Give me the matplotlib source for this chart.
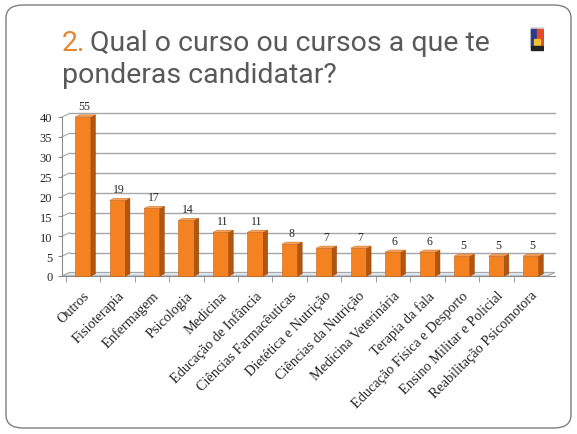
import matplotlib
matplotlib.use("Agg")
import matplotlib.pyplot as plt
from matplotlib.patches import Polygon, FancyBboxPatch, Rectangle

categories = ["Outros", "Fisioterapia", "Enfermagem", "Psicologia", "Medicina",
              "Educação de Infância", "Ciências Farmacêuticas", "Dietética e Nutrição",
              "Ciências da Nutrição", "Medicina Veterinária", "Terapia da fala",
              "Educação Física e Desporto", "Ensino Militar e Policial",
              "Reabilitação Psicomotora"]
values = [55, 19, 17, 14, 11, 11, 8, 7, 7, 6, 6, 5, 5, 5]
yticks = [0, 5, 10, 15, 20, 25, 30, 35, 40]

W, H = 577, 435
fig = plt.figure(figsize=(W / 100, H / 100), dpi=100)
fig.patch.set_facecolor("white")

# slide border
fig.patches.append(FancyBboxPatch((6 / W, 6 / H), (W - 12) / W, (H - 12) / H,
                                  boxstyle="round,pad=0,rounding_size=0.03",
                                  transform=fig.transFigure, fill=False,
                                  edgecolor="#7f7f7f", linewidth=1.0))

# title
tfont = dict(family=["Roboto", "DejaVu Sans"], fontsize=20.5)
t1 = fig.text(62 / W, 1 - 51 / H, "2.", color="#E8862E", **tfont)
fig.canvas.draw()
bb = t1.get_window_extent()
fig.text(bb.x1 / W + 0.008, 1 - 51 / H, "Qual o curso ou cursos a que te",
         color="#595959", **tfont)
fig.text(62 / W, 1 - 83 / H, "ponderas candidatar?", color="#595959", **tfont)

# small logo
lax = fig.add_axes([530 / W, 1 - 58 / H, 14 / W, 30 / H])
lax.set_xlim(0, 1); lax.set_ylim(0, 1); lax.axis("off")
lax.add_patch(Rectangle((0, 0.35), 1, 0.65, color="#d9d9d9"))
lax.add_patch(Rectangle((0.05, 0.4), 0.45, 0.55, color="#2b3a8c"))
lax.add_patch(Rectangle((0.5, 0.4), 0.45, 0.55, color="#e24a2b"))
lax.add_patch(Rectangle((0.3, 0.4), 0.4, 0.2, color="#f2c12e"))
lax.add_patch(Rectangle((0.05, 0.25), 0.9, 0.12, color="#222222"))

# chart axes
ymax = 40
x0px, x1px = 62, 555
y0px, y1px = 277, 118
ax = fig.add_axes([x0px / W, 1 - y0px / H, (x1px - x0px) / W, (y0px - y1px) / H])
n = len(values)
ax.set_xlim(-0.61, n - 1 + 0.7)
ax.set_ylim(0, ymax)
for s in ["top", "right"]:
    ax.spines[s].set_visible(False)
ax.spines["left"].set_color("#8c8c8c")
ax.spines["bottom"].set_color("#8c8c8c")
ax.set_facecolor("none")

# perspective offsets (data units)
dx, dy = 0.22, 0.9
for yv in yticks[1:]:
    ax.plot([-0.61 + dx, n - 1 + 0.7], [yv + dy, yv + dy], color="#a6a6a6",
            lw=1.0, zorder=1, clip_on=False)
    ax.plot([-0.61, -0.61 + dx], [yv, yv + dy], color="#a6a6a6", lw=0.8,
            zorder=1, clip_on=False)
# floor
ax.add_patch(Polygon([(-0.61, 0), (n - 1 + 0.7 - dx, 0), (n - 1 + 0.7, dy),
                      (-0.61 + dx, dy)], closed=True, facecolor="#dde6ee",
                     edgecolor="#a6a6a6", lw=0.8, zorder=1, clip_on=False))

bw = 0.46
for i, v in enumerate(values):
    top = min(v, ymax)
    l, r = i - bw / 2, i + bw / 2
    ax.add_patch(Rectangle((l, 0), bw, top, facecolor="#F58220",
                           edgecolor="#C55F10", lw=0.4, zorder=3, clip_on=False))
    ax.add_patch(Polygon([(r, 0), (r + dx * 0.6, dy * 0.6), (r + dx * 0.6, top + dy * 0.6),
                          (r, top)], closed=True, facecolor="#B2550F",
                         edgecolor="#8f430a", lw=0.3, zorder=3, clip_on=False))
    ax.add_patch(Polygon([(l, top), (r, top), (r + dx * 0.6, top + dy * 0.6),
                          (l + dx * 0.6, top + dy * 0.6)], closed=True,
                         facecolor="#F7A35C", edgecolor="#C55F10", lw=0.3,
                         zorder=3, clip_on=False))
    ax.text(i + 0.05, top + 1.3, str(v), ha="center", va="bottom",
            family="Liberation Serif", fontsize=8.5, color="#262626", zorder=4)

ax.set_yticks(yticks)
ax.set_yticklabels([str(t) for t in yticks], family="Liberation Serif",
                   fontsize=9, color="#262626")
ax.tick_params(axis="y", length=3, color="#8c8c8c", pad=4)

ax.set_xticks([i + 0.5 for i in range(n - 1)] + [-0.5], minor=True)
ax.set_xticks(range(n))
ax.set_xticklabels(categories, rotation=45, ha="right", rotation_mode="anchor",
                   family="Liberation Serif", fontsize=10.3, color="#262626")
ax.tick_params(axis="x", which="major", length=0, pad=9)
ax.tick_params(axis="x", which="minor", length=4, color="#8c8c8c")

fig.savefig("out.png", dpi=100)
